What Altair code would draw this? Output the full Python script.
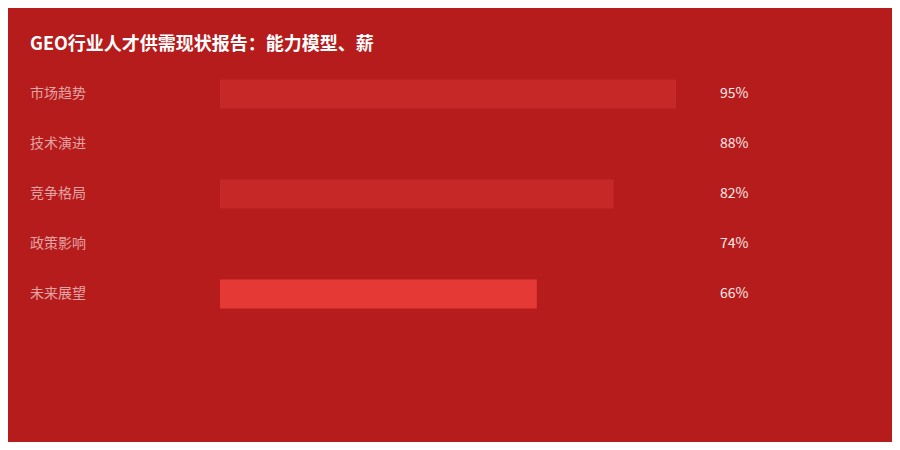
import altair as alt
import pandas as pd

categories = ["市场趋势", "技术演进", "竞争格局", "政策影响", "未来展望"]
values = [95, 88, 82, 74, 66]
bar_colors = ["#C62828", "#B71C1C", "#C62828", "#B71C1C", "#E53935"]
title_text = "GEO行业人才供需现状报告：能力模型、薪"

BG = "#B71C1C"
FONT = "Noto Sans CJK SC"

df = pd.DataFrame({
    "category": categories,
    "value": values,
    "color": bar_colors,
    "row": list(range(1, len(categories) + 1)),
    "label": [f"{v}%" for v in values],
})

xs = alt.Scale(domain=[0, 100], range=[212, 692], zero=False, nice=False, padding=0)
ys = alt.Scale(domain=[1, 5], range=[86, 286], zero=False, nice=False, padding=0)

base = alt.Chart(df)

bars = base.mark_bar(size=29, orient="horizontal").encode(
    x=alt.X("value:Q", scale=xs, axis=None),
    y=alt.Y("row:Q", scale=ys, axis=None),
    color=alt.Color("color:N", scale=None, legend=None),
)

cat_text = base.mark_text(
    align="left", baseline="middle", font=FONT, fontSize=14, color="#E2A4A4"
).encode(
    x=alt.value(22),
    y=alt.Y("row:Q", scale=ys, axis=None),
    text="category:N",
)

val_text = base.mark_text(
    align="left", baseline="middle", font=FONT, fontSize=14, color="#F8E8E8"
).encode(
    x=alt.value(712),
    y=alt.Y("row:Q", scale=ys, axis=None),
    text="label:N",
)

title = alt.Chart(pd.DataFrame({"t": [title_text]})).mark_text(
    align="left", baseline="middle", font=FONT, fontSize=18, fontWeight="bold", color="#FFFFFF"
).encode(
    x=alt.value(22),
    y=alt.value(37),
    text="t:N",
)

chart = alt.layer(bars, cat_text, val_text, title).properties(
    width=884,
    height=434,
    autosize=alt.AutoSizeParams(type="none"),
    padding=0,
    background=BG,
).configure_view(stroke=None)

chart.save("out.html", embed_options={"renderer": "svg", "actions": False})
